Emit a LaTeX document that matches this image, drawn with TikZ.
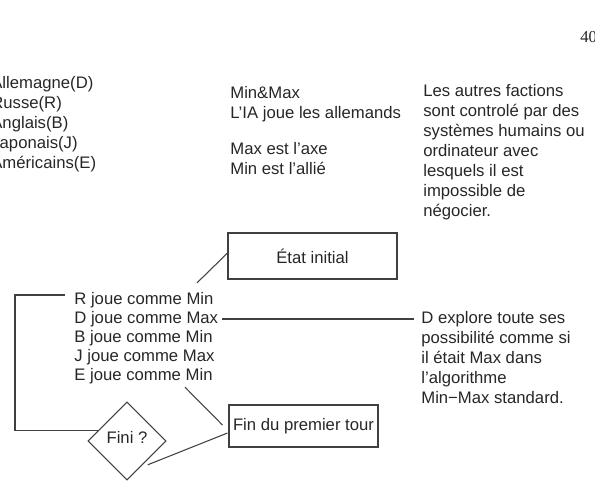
\documentclass[tikz,border=0pt]{standalone}
\usepackage{fontspec}
\setmainfont{Liberation Sans}
\newfontfamily\pagefont{Liberation Serif}
\usetikzlibrary{
  positioning,
  calc,
  shapes.geometric
}

\begin{document}
\begin{tikzpicture}[
      x=0.02cm, y=-0.02cm,
      every node/.style={text=black!85},
      txt/.style={anchor=north west, inner sep=0pt, align=left,
                  font=\fontsize{9.5}{11.4}\selectfont},
      ligne/.style={anchor=west, inner sep=0pt,
                    font=\fontsize{9.5}{11.4}\selectfont},
      boite/.style={draw=black!75, line width=0.6pt, inner sep=2pt,
                    font=\fontsize{9.5}{11.4}\selectfont},
      test/.style={diamond, draw=black!75, line width=0.6pt, inner sep=0pt,
                   minimum width=1.56cm, minimum height=1.56cm,
                   font=\fontsize{9.5}{11.4}\selectfont},
      lien/.style={black!75, line width=0.6pt}
  ]
      \useasboundingbox (0,0) rectangle (595,485);

      % Numéro de page
      \node[anchor=west, inner sep=0pt, font=\pagefont\fontsize{9.5}{10}\selectfont]
          (num) at (580,37) {40};

      % Factions
      \node[txt] (fac) at (-9,76) {
          Allemagne(D)\\
          Russe(R)\\
          Anglais(B)\\
          Japonais(J)\\
          Américains(E)
      };

      % Rôles
      \node[txt] (ia) at (230,86) {
          Min\&Max\\
          L'IA joue les allemands
      };
      \node[txt] (axe) at (230,142) {
          Max est l'axe\\
          Min est l'allié
      };
      \node[txt] (autres) at (423,84) {
          Les autres factions\\
          sont controlé par des\\
          systèmes humains ou\\
          ordinateur avec\\
          lesquels il est\\
          impossible de\\
          négocier.
      };

      % Déroulement du tour
      \node[boite, minimum width=3.38cm, minimum height=0.92cm]
          (etat) at (312.5,256) {État initial};

      \node[ligne] (r) at (74,300) {R joue comme Min};
      \node[ligne] (d) at (74,319) {D joue comme Max};
      \node[ligne] (b) at (74,338) {B joue comme Min};
      \node[ligne] (j) at (74,357) {J joue comme Max};
      \node[ligne] (e) at (74,376) {E joue comme Min};

      \node[txt] (expl) at (421,311) {
          D explore toute ses\\
          possibilité comme si\\
          il était Max dans\\
          l'algorithme\\
          Min{\textminus}Max standard.
      };

      \node[boite, minimum width=2.98cm, minimum height=0.84cm]
          (fin) at (303.5,426) {Fin du premier tour};

      \node[test] (fini) at (127,441) {\raisebox{4pt}{Fini ?}};

      % Liens
      \draw[lien] ($(etat.west)+(0,-3)$) -- ($(r.north west)+(123,-9)$);
      \draw[lien, shorten <=2pt, shorten >=4pt] (d.east) -- (d.east -| expl.west);
      \draw[lien] ($(e.south east)+(-28,3)$) -- ($(fin.west)+(-6,-1)$);
      \draw[lien] ($(fin.west)+(-1,7)$) -- ($(fini.-48)+(2,3)$);

      % Boucle
      \draw[lien] ($(r.west)+(-9,-5)$) -- ++(-50,0) |- (fini.160);
  \end{tikzpicture}
\end{document}
